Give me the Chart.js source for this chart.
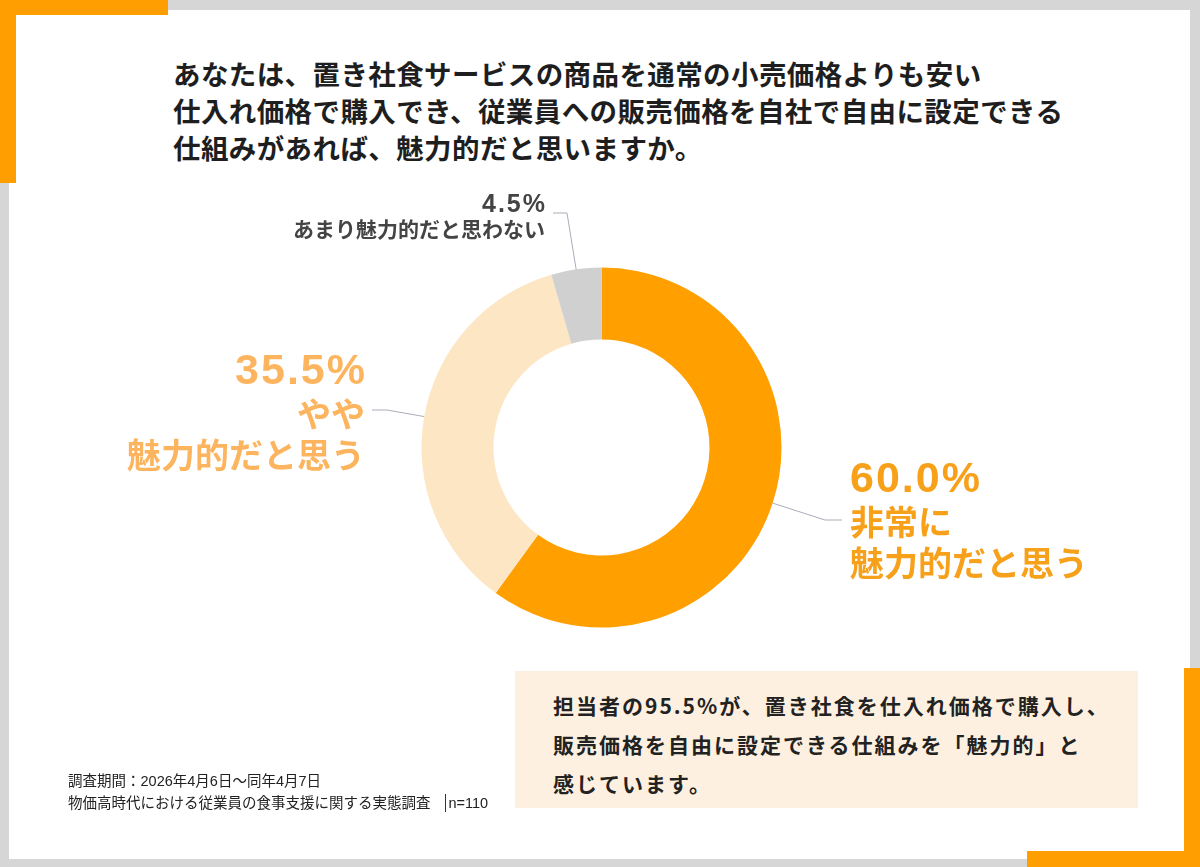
<!DOCTYPE html>
<html lang="ja">
<head>
<meta charset="utf-8">
<title>置き社食 仕入れ価格の魅力度</title>
<script src="https://cdn.jsdelivr.net/npm/chart.js@4.4.1/dist/chart.umd.min.js"></script>
<style>
  body { margin: 0; background: #d6d6d6; }
  #page { position: relative; width: 1200px; height: 867px; background: #d6d6d6; overflow: hidden;
          font-family: "Noto Sans CJK JP", "Noto Sans", sans-serif; color: #222; }
  .card { position: absolute; left: 9px; top: 10px; width: 1181px; height: 849px; background: #fff; }
  .bar { position: absolute; background: #ff9e00; }
  #title { position: absolute; left: 173px; top: 55px; font-size: 27.5px; font-weight: 700; line-height: 37px;
           letter-spacing: 0.4px; color: #1e1e1e; }
  #note { position: absolute; left: 515px; top: 671px; width: 623px; height: 137px; background: #fdf0e0; }
  #noteText { position: absolute; left: 553px; top: 686px; font-size: 21px; font-weight: 700; line-height: 39px;
              letter-spacing: 2px; color: #222; }
  #foot { position: absolute; left: 68px; top: 770px; font-size: 14.5px; line-height: 22px; color: #222;
          font-family: "Liberation Sans", "Noto Sans CJK JP", sans-serif; }
  #foot .sep { display: inline-block; width: 0; height: 18px; border-left: 1.5px solid #333;
               vertical-align: -4px; margin: 0 3px 0 14px; }
  #chartBox { position: absolute; left: 0; top: 0; width: 1200px; height: 867px; }
  .lbl { position: absolute; font-weight: 700; white-space: nowrap;
         font-family: "Liberation Sans", "Noto Sans CJK JP", sans-serif; }
  .lbl .pct { display: block; }
  .lbl .txt { display: block; font-family: "Noto Sans CJK JP", sans-serif; letter-spacing: 0; }
</style>
</head>
<body>
<div id="page">
  <div class="card"></div>
  <div class="bar" style="left:0;top:0;width:168px;height:15px"></div>
  <div class="bar" style="left:0;top:0;width:16px;height:183px"></div>
  <div class="bar" style="left:1184px;top:668px;width:16px;height:199px"></div>
  <div class="bar" style="left:1027px;top:851px;width:173px;height:16px"></div>

  <div id="title">あなたは、置き社食サービスの商品を通常の小売価格よりも安い<br>仕入れ価格で購入でき、従業員への販売価格を自社で自由に設定できる<br>仕組みがあれば、魅力的だと思いますか。</div>

  <div id="chartBox"><canvas id="donut"></canvas></div>

  <div id="note"></div>
  <div id="noteText">担当者の95.5%が、置き社食を仕入れ価格で購入し、<br>販売価格を自由に設定できる仕組みを「魅力的」と<br>感じています。</div>

  <div id="foot">調査期間：2026年4月6日～同年4月7日<br>物価高時代における従業員の食事支援に関する実態調査<span class="sep"></span>n=110</div>
</div>

<script>
// data
var categories = ['非常に\n魅力的だと思う', 'やや\n魅力的だと思う', 'あまり魅力的だと思わない'];
var shares = [60.0, 35.5, 4.5];
var sliceColors = ['#ff9f00', '#fde6c4', '#d0d0d0'];

// label styling / placement (not data)
var labelStyle = [
  { left: 850, top: 454, align: 'left',  color: '#f7a01a', pct: 43, pctLh: 46, ls: 2, txt: 34, txtLh: 41, elbow: [825, 520], end: [842, 520] },
  { right: 365, top: 346, align: 'right', color: '#fcb55e', pct: 43, pctLh: 46, ls: 2, txt: 34, txtLh: 41, elbow: [387, 410], end: [372, 410] },
  { right: 545, top: 190, align: 'right', color: '#444444', pct: 25, pctLh: 26, ls: 2, txt: 21, txtLh: 25, elbow: [567, 213], end: [553, 213] }
];

var page = document.getElementById('page');
categories.forEach(function (cat, i) {
  var s = labelStyle[i];
  var d = document.createElement('div');
  d.className = 'lbl';
  d.style.top = s.top + 'px';
  d.style.color = s.color;
  d.style.textAlign = s.align;
  if (s.align === 'left') d.style.left = s.left + 'px';
  else d.style.right = (1200 - s.right) + 'px';
  var pctStyle = 'font-size:' + s.pct + 'px;line-height:' + s.pctLh + 'px;letter-spacing:' + s.ls + 'px;';
  if (s.align === 'right') pctStyle += 'margin-right:-' + s.ls + 'px;';
  var html = '<span class="pct" style="' + pctStyle + '">' + shares[i].toFixed(1) + '%</span>';
  cat.split('\n').forEach(function (line) {
    html += '<span class="txt" style="font-size:' + s.txt + 'px;line-height:' + s.txtLh + 'px">' + line + '</span>';
  });
  d.innerHTML = html;
  page.appendChild(d);
});

// leader lines from each slice's mid angle on the outer edge
var leaderLines = {
  id: 'leaderLines',
  afterDatasetsDraw: function (chart) {
    var ctx = chart.ctx;
    var meta = chart.getDatasetMeta(0);
    ctx.save();
    ctx.strokeStyle = '#a9adb8';
    ctx.lineWidth = 1;
    meta.data.forEach(function (arc, i) {
      var p = arc.getProps(['x', 'y', 'startAngle', 'endAngle', 'outerRadius'], true);
      var mid = (p.startAngle + p.endAngle) / 2;
      var s = labelStyle[i];
      ctx.beginPath();
      ctx.moveTo(p.x + Math.cos(mid) * p.outerRadius, p.y + Math.sin(mid) * p.outerRadius);
      ctx.lineTo(s.elbow[0], s.elbow[1]);
      ctx.lineTo(s.end[0], s.end[1]);
      ctx.stroke();
    });
    ctx.restore();
  }
};

new Chart(document.getElementById('donut'), {
  type: 'doughnut',
  data: {
    labels: categories,
    datasets: [{
      data: shares,
      backgroundColor: sliceColors,
      borderWidth: 0
    }]
  },
  options: {
    responsive: true,
    maintainAspectRatio: false,
    animation: false,
    cutout: '60%',
    layout: { padding: { left: 421.5, right: 418.5, top: 267.5, bottom: 239.5 } },
    plugins: {
      legend: { display: false },
      tooltip: { enabled: false }
    }
  },
  plugins: [leaderLines]
});
</script>
</body>
</html>
